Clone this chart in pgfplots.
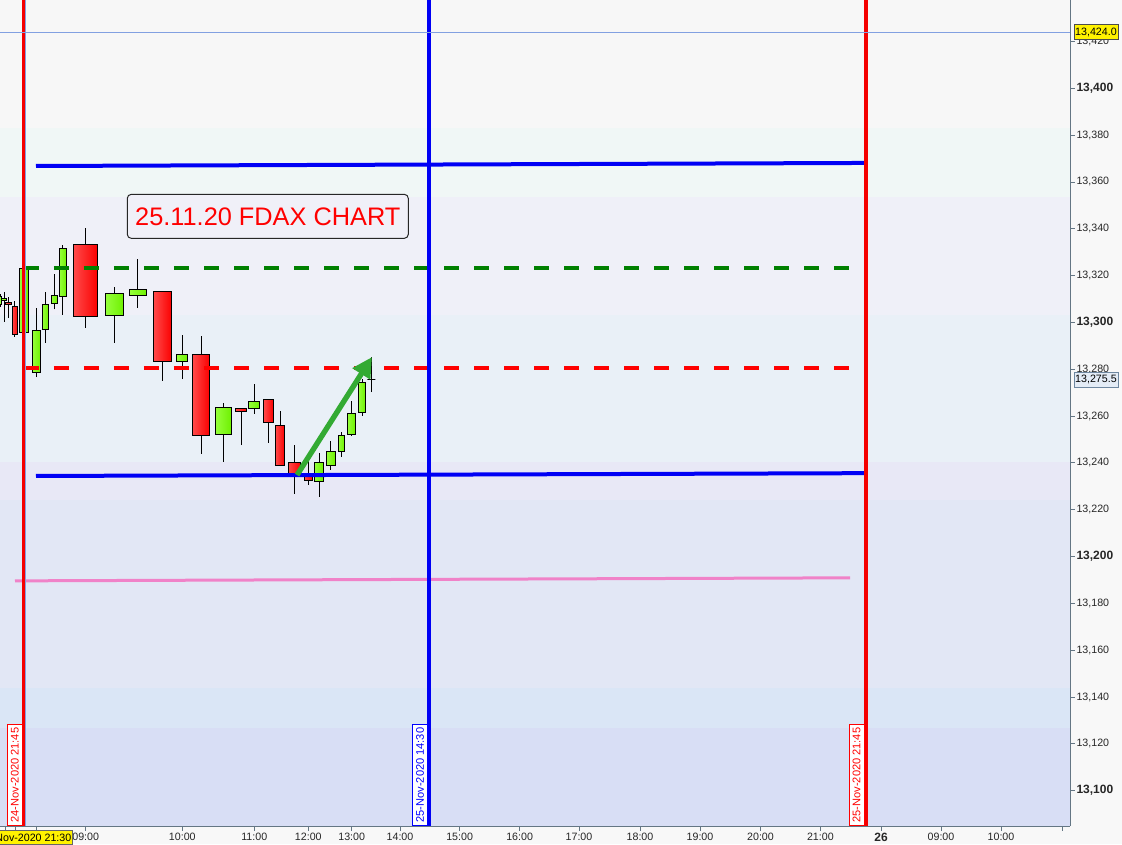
\documentclass[border=0pt]{standalone}
\usepackage{pgfplots}
\pgfplotsset{compat=1.18}
\usepackage{pgfplotstable}
\usetikzlibrary{arrows.meta}
\usepackage{fontspec}
\setmainfont{Liberation Sans}

\definecolor{pagebg}{RGB}{248,248,248}
\definecolor{bA}{RGB}{247,247,247}
\definecolor{bB}{RGB}{240,247,246}
\definecolor{bC}{RGB}{239,240,248}
\definecolor{bD}{RGB}{233,240,247}
\definecolor{bE}{RGB}{232,232,246}
\definecolor{bF}{RGB}{226,231,245}
\definecolor{bG}{RGB}{218,230,246}
\definecolor{bH}{RGB}{216,222,245}
\definecolor{axisgray}{RGB}{100,118,132}
\definecolor{gL}{RGB}{150,255,60}
\definecolor{gR}{RGB}{110,240,0}
\definecolor{rL}{RGB}{255,75,75}
\definecolor{rR}{RGB}{250,0,0}
\definecolor{lineblue}{RGB}{0,0,245}
\definecolor{linered}{RGB}{245,0,0}
\definecolor{dashgreen}{RGB}{0,128,0}
\definecolor{dashred}{RGB}{255,0,0}
\definecolor{pinkline}{RGB}{240,130,200}
\definecolor{arrowgreen}{RGB}{51,170,51}
\definecolor{crossblue}{RGB}{130,160,225}
\definecolor{boxfill}{RGB}{240,240,248}
\definecolor{lastfill}{RGB}{228,236,246}
\definecolor{lastdraw}{RGB}{110,135,160}

\newcommand\B[1]{{\fontsize{9}{10}\selectfont\bfseries #1}}

% candles: body left/right edge (x), open, high, low, close
\pgfplotstableread{
xl    xr    o        h        l        c
0.0   1.7   13307.7  13312.0  13306.5  13311.2
1.7   6.7   13309.5  13313.1  13300.3  13310.0
6.0   11.7  13308.7  13311.0  13301.8  13307.7
12.3  17.7  13307.0  13309.2  13293.9  13294.9
19.3  28.3  13295.8  13323.1  13295.8  13323.1
32.3  40.7  13278.7  13306.0  13276.6  13296.6
42.3  48.7  13297.1  13313.1  13291.3  13307.7
51.3  57.3  13308.2  13320.6  13305.6  13311.6
59.3  66.7  13311.2  13333.1  13303.3  13331.7
73.3  97.7  13333.1  13340.3  13297.7  13302.6
105.3 123.7 13303.0  13315.1  13291.3  13312.4
129.3 146.7 13311.6  13327.1  13306.3  13314.2
153.3 171.7 13313.0  13313.0  13275.1  13283.2
176.3 187.7 13283.4  13294.6  13275.8  13286.1
192.3 209.7 13286.4  13294.2  13243.8  13251.8
215.3 231.7 13252.2  13265.6  13240.4  13263.8
235.3 246.7 13263.3  13263.4  13247.6  13261.9
248.3 259.7 13263.2  13273.7  13261.0  13266.4
263.3 273.7 13267.2  13267.2  13248.6  13257.3
275.3 284.7 13256.1  13262.2  13238.8  13238.8
288.3 300.7 13240.3  13247.5  13226.8  13235.0
304.3 312.7 13235.0  13241.5  13230.7  13232.6
314.3 323.7 13232.1  13244.1  13225.6  13240.3
326.3 335.3 13238.8  13249.4  13237.0  13245.0
338.3 344.7 13245.0  13253.2  13242.7  13251.8
347.3 355.7 13252.1  13266.3  13251.5  13261.2
358.3 365.7 13261.6  13275.8  13260.2  13274.4
367.3 375.3 13275.5  13285.1  13270.2  13275.5
}\candles

% background bands: bottom, top
\pgfplotstableread{
lo       hi
13383.0  13437.7
13353.6  13383.0
13303.2  13353.6
13240.4  13303.2
13224.2  13240.4
13143.9  13224.2
13126.8  13143.9
13084.9  13126.8
}\bands

\begin{document}
\begin{tikzpicture}[x=1pt,y=1pt]
\fill[pagebg] (0,-13.5) rectangle (841.5,619.5);
\begin{axis}[
  at={(0,0)}, anchor=south west,
  scale only axis, width=802.5pt, height=619.5pt,
  xmin=0, xmax=1070, ymin=13084.9, ymax=13437.7,
  axis x line*=bottom, axis y line*=right,
  axis line style={axisgray, line width=0.75pt},
  clip mode=individual,
  tick align=outside,
  major tick length=3.5pt, minor tick length=2.5pt,
  tick style={axisgray, line width=0.6pt},
  ytick={13100,13120,...,13420},
  minor y tick num=1,
  yticklabels={{\B{13,100}},{13,120},{13,140},{13,160},{13,180},{\B{13,200}},{13,220},{13,240},{13,260},{13,280},{\B{13,300}},{13,320},{13,340},{13,360},{13,380},{\B{13,400}},{13,420}},
  yticklabel style={anchor=west, inner sep=0pt, xshift=1.2pt, font=\fontsize{8}{9}\selectfont, text=black!85},
  xtick={85.7,182.3,254.3,308.3,351.7,400,459.6,519.6,579,640,700,760.5,820.4,881,941,1001},
  xticklabels={09:00,10:00,11:00,12:00,13:00,14:00,15:00,16:00,17:00,18:00,19:00,20:00,21:00,{\B{26}},09:00,10:00},
  xticklabel style={anchor=north, inner sep=0pt, yshift=-1.5pt, font=\fontsize{8}{9}\selectfont, text=black!85},
  extra x ticks={5,15,36.7,1062},
  extra x tick labels={},
]
% background bands
\pgfplotstablegetrowsof{\bands}
\pgfmathtruncatemacro{\lastband}{\pgfplotsretval-1}
\pgfplotsforeachungrouped \j in {0,...,\lastband}{%
  \pgfplotstablegetelem{\j}{lo}\of{\bands}\let\blo\pgfplotsretval
  \pgfplotstablegetelem{\j}{hi}\of{\bands}\let\bhi\pgfplotsretval
  \ifcase\j \def\bcol{bA}\or\def\bcol{bB}\or\def\bcol{bC}\or\def\bcol{bD}\or\def\bcol{bE}\or\def\bcol{bF}\or\def\bcol{bG}\else\def\bcol{bH}\fi
  \edef\temp{\noexpand\addplot[fill=\bcol, draw=none, forget plot] coordinates {(0,\blo) (1070,\blo) (1070,\bhi) (0,\bhi)} --cycle;}%
  \temp
}
% candles
\pgfplotstablegetrowsof{\candles}
\pgfmathtruncatemacro{\lastrow}{\pgfplotsretval-1}
\pgfplotsforeachungrouped \i in {0,...,\lastrow}{%
  \pgfplotstablegetelem{\i}{xl}\of{\candles}\let\cxl\pgfplotsretval
  \pgfplotstablegetelem{\i}{xr}\of{\candles}\let\cxr\pgfplotsretval
  \pgfplotstablegetelem{\i}{o}\of{\candles}\let\co\pgfplotsretval
  \pgfplotstablegetelem{\i}{h}\of{\candles}\let\ch\pgfplotsretval
  \pgfplotstablegetelem{\i}{l}\of{\candles}\let\cl\pgfplotsretval
  \pgfplotstablegetelem{\i}{c}\of{\candles}\let\cc\pgfplotsretval
  \pgfmathsetmacro{\cxm}{(\cxl+\cxr)/2}
  \ifdim\cc pt<\co pt \def\cL{rL}\def\cR{rR}\else\def\cL{gL}\def\cR{gR}\fi
  \edef\temp{%
    \noexpand\addplot[black, line width=0.75pt, forget plot] coordinates {(\cxm,\cl) (\cxm,\ch)};
    \noexpand\addplot[draw=black, line width=0.75pt, left color=\cL, right color=\cR, forget plot] coordinates {(\cxl,\co) (\cxr,\co) (\cxr,\cc) (\cxl,\cc)} --cycle;
  }\temp
}
% horizontal lines
\addplot[lineblue, line width=3pt] coordinates {(36,13366.8) (865,13368.1)};
\addplot[lineblue, line width=3pt] coordinates {(36,13234.4) (865,13235.6)};
\addplot[dashgreen, line width=3pt, dash pattern=on 11.25pt off 11.25pt] coordinates {(24,13323.2) (850,13323.2)};
\addplot[dashred, line width=3pt, dash pattern=on 11.25pt off 11.25pt] coordinates {(24,13280.5) (850,13280.5)};
\addplot[pinkline, line width=2.25pt] coordinates {(15,13189.6) (850,13190.9)};
% vertical lines
\addplot[linered, line width=2.8pt] coordinates {(23.4,13084.9) (23.4,13437.7)};
\addplot[lineblue, line width=3pt] coordinates {(429,13084.9) (429,13437.7)};
\addplot[linered, line width=3pt] coordinates {(866,13084.9) (866,13437.7)};
% crosshair
\addplot[crossblue, line width=0.75pt] coordinates {(25.2,13084.9) (25.2,13437.7)};
\addplot[crossblue, line width=0.75pt] coordinates {(0,13424) (1070,13424)};
% arrow
\addplot[arrowgreen, line width=4pt, -{Triangle[length=15pt,width=15pt]}] coordinates {(297,13234.8) (372,13285.2)};
% annotations
\node[draw=black!85, fill=boxfill, rounded corners=3pt, line width=0.75pt, minimum width=210.75pt, minimum height=33pt, inner sep=0pt, text=red, font=\fontsize{19}{22}\selectfont] at (axis cs:267.8,13345.3) {25.11.20 FDAX CHART};
\node[rotate=90, anchor=west, draw=red, fill=white, text=red, line width=0.6pt, minimum width=75.75pt, minimum height=11.25pt, inner sep=0.5pt, font=\fontsize{8.3}{9}\selectfont] at (axis cs:14.8,13084.9) {24-Nov-2020 21:45};
\node[rotate=90, anchor=west, draw=blue, fill=white, text=blue, line width=0.6pt, minimum width=75.75pt, minimum height=11.25pt, inner sep=0.5pt, font=\fontsize{8.3}{9}\selectfont] at (axis cs:420,13084.9) {25-Nov-2020 14:30};
\node[rotate=90, anchor=west, draw=red, fill=white, text=red, line width=0.6pt, minimum width=75.75pt, minimum height=11.25pt, inner sep=0.5pt, font=\fontsize{8.3}{9}\selectfont] at (axis cs:856.5,13084.9) {25-Nov-2020 21:45};
\node[anchor=west, fill=yellow, draw=black!70, line width=0.5pt, inner sep=1pt, minimum height=11pt, font=\fontsize{8}{9}\selectfont] at (axis cs:1073.5,13424) {13,424.0};
\node[anchor=west, fill=lastfill, draw=lastdraw, line width=0.5pt, inner sep=1pt, minimum height=11pt, font=\fontsize{8}{9}\selectfont] at (axis cs:1073.5,13275.5) {13,275.5};
\node[anchor=north east, fill=yellow, draw=black!60, line width=0.5pt, inner sep=1pt, minimum height=10.5pt, font=\fontsize{8}{9}\selectfont, yshift=-3pt] at (axis cs:73,13084.9) {24-Nov-2020 21:30};
\end{axis}
\pgfresetboundingbox
\path[use as bounding box] (0,-13.5) rectangle (841.5,619.5);
\end{tikzpicture}
\end{document}
